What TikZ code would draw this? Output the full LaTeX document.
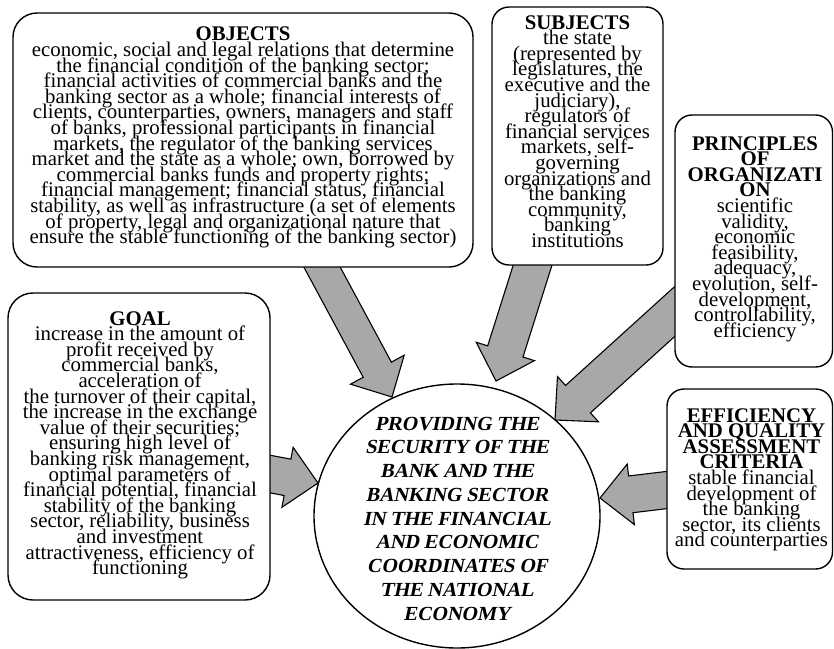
\documentclass[tikz,border=0pt]{standalone}
\usepackage{fontspec}
\setmainfont{Liberation Serif}
\newfontfamily\coreff{Liberation Serif}[FakeSlant=0.2]
\usetikzlibrary{calc,shapes.geometric}
\definecolor{arrowgray}{RGB}{168,168,168}
\lineskiplimit=-100pt
\newcommand\mybodyfont{\fontsize{20.8}{15.6}\selectfont\lineskiplimit=-100pt\relax}
\newcommand\mycorefont{\coreff\fontsize{20}{23.75}\selectfont\bfseries\lineskiplimit=-100pt\relax}
\newcommand\blkarrow[4]{% #1 start, #2 tip, #3 half shaft width, #4 name prefix
  \coordinate (#4base) at ($(#2)!31pt!(#1)$);
  \draw[barrow] ($(#1)!#3!90:(#2)$) -- ($(#4base)!#3!90:(#2)$) -- ($(#4base)!30.5pt!90:(#2)$)
    -- (#2) -- ($(#4base)!30.5pt!-90:(#2)$) -- ($(#4base)!#3!-90:(#2)$) -- ($(#1)!#3!-90:(#2)$) -- cycle;
}
\tikzset{
  boxstyle/.style={draw, line width=1.4pt, fill=white, inner sep=0pt},
  txt/.style={font=\mybodyfont, align=center, inner sep=0pt, anchor=north},
  coretxt/.style={font=\mycorefont, align=center, inner sep=0pt, anchor=north},
  barrow/.style={draw, line width=1.1pt, fill=arrowgray, line join=miter},
}
\begin{document}
\begin{tikzpicture}[x=1pt,y=-1pt]
\useasboundingbox (0,0) rectangle (834,648);
% arrow coordinates
\coordinate (a1s) at (312.5,249.4); \coordinate (a1t) at (392,397);
\coordinate (a2s) at (538,248);     \coordinate (a2t) at (496,381);
\coordinate (a3s) at (690,297.6);   \coordinate (a3t) at (555,420);
\coordinate (a4s) at (687,487.6);   \coordinate (a4t) at (600,498);
\coordinate (a5s) at (250,470.3);   \coordinate (a5t) at (318,483);
\blkarrow{a1s}{a1t}{16pt}{a1}
\blkarrow{a2s}{a2t}{18.5pt}{a2}
\blkarrow{a3s}{a3t}{18.5pt}{a3}
\blkarrow{a4s}{a4t}{18.5pt}{a4}
\blkarrow{a5s}{a5t}{18.5pt}{a5}
% boxes
\node[boxstyle, rounded corners=24pt, minimum width=460pt, minimum height=254pt] (objects) at (243,140) {};
\node[boxstyle, rounded corners=17pt, minimum width=171pt, minimum height=258pt] (subjects) at (577.5,136) {};
\node[boxstyle, rounded corners=17pt, minimum width=157.5pt, minimum height=252pt] (principles) at (753.75,241) {};
\node[boxstyle, rounded corners=25pt, minimum width=262pt, minimum height=307pt] (goal) at (139,446.5) {};
\node[boxstyle, rounded corners=17pt, minimum width=165.5pt, minimum height=180pt] (efficiency) at (749.75,479) {};
\node[boxstyle, ellipse, minimum width=286pt, minimum height=264pt] (core) at (457,516) {};
% texts
\node[txt] (objectstxt) at (243,27) {\textbf{OBJECTS}\\
economic, social and legal relations that determine\\
the financial condition of the banking sector;\\
financial activities of commercial banks and the\\
banking sector as a whole; financial interests of\\
clients, counterparties, owners, managers and staff\\
of banks, professional participants in financial\\
markets, the regulator of the banking services\\
market and the state as a whole; own, borrowed by\\
commercial banks funds and property rights;\\
financial management; financial status, financial\\
stability, as well as infrastructure (a set of elements\\
of property, legal and organizational nature that\\
ensure the stable functioning of the banking sector)};
\node[txt] (subjectstxt) at (577.5,15.2) {\textbf{SUBJECTS}\\ the state\\ (represented by\\ legislatures, the\\ executive and the\\ judiciary),\\ regulators of\\ financial services\\ markets, self-\\ governing\\ organizations and\\ the banking\\ community,\\ banking\\ institutions};
\node[txt] (principlestxt) at (755,136.2) {\textbf{PRINCIPLES}\\ \textbf{OF}\\ \textbf{ORGANIZATI}\\ \textbf{ON}\\ scientific\\ validity,\\ economic\\ feasibility,\\ adequacy,\\ evolution, self-\\ development,\\ controllability,\\ efficiency};
\node[txt] (goaltxt) at (140,311.2) {\textbf{GOAL}\\ increase in the amount of\\ profit received by\\ commercial banks,\\ acceleration of\\ the turnover of their capital,\\ the increase in the exchange\\ value of their securities;\\ ensuring high level of\\ banking risk management,\\ optimal parameters of\\ financial potential, financial\\ stability of the banking\\ sector, reliability, business\\ and investment\\ attractiveness, efficiency of\\ functioning};
\node[txt] (efficiencytxt) at (751.5,408.2) {\textbf{EFFICIENCY}\\ \textbf{AND QUALITY}\\ \textbf{ASSESSMENT}\\ \textbf{CRITERIA}\\ stable financial\\ development of\\ the banking\\ sector, its clients\\ and counterparties};
\node[coretxt] (coretext) at (457,416.7) {PROVIDING THE\\ SECURITY OF THE\\ BANK AND THE\\ BANKING SECTOR\\ IN THE FINANCIAL\\ AND ECONOMIC\\ COORDINATES OF\\ THE NATIONAL\\ ECONOMY};
\end{tikzpicture}
\end{document}
